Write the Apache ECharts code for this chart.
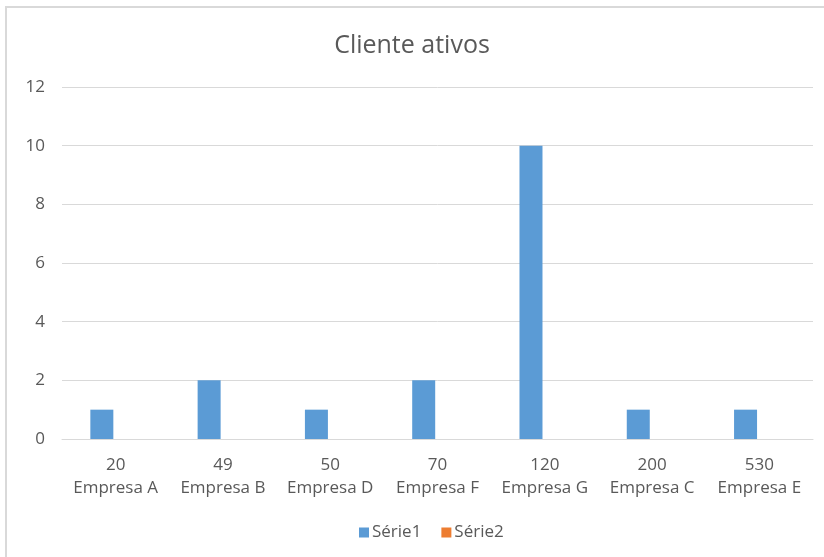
<!DOCTYPE html>
<html>
<head>
<meta charset="utf-8">
<script src="https://cdn.jsdelivr.net/npm/echarts@6/dist/echarts.min.js"></script>
<style>
  html, body { margin: 0; padding: 0; background: #fff; }
  #chart { width: 824px; height: 557px; }
</style>
</head>
<body>
<div id="chart"></div>
<script>
// Two-level category labels: numeric code on top, company name below
const codes = ['20', '49', '50', '70', '120', '200', '530'];
const companies = ['Empresa A', 'Empresa B', 'Empresa D', 'Empresa F', 'Empresa G', 'Empresa C', 'Empresa E'];
const serie1 = [1, 2, 1, 2, 10, 1, 1];
const serie2 = [0, 0, 0, 0, 0, 0, 0];
const yTicks = [0, 2, 4, 6, 8, 10, 12];

const font = 'Open Sans';
const textColor = '#595959';

const chart = echarts.init(document.getElementById('chart'), null, { renderer: 'canvas' });
chart.setOption({
  backgroundColor: '#ffffff',
  animation: false,
  textStyle: { fontFamily: font },
  graphic: [{
    type: 'rect',
    shape: { x: 6, y: 7, width: 840, height: 580 },
    style: { fill: 'none', stroke: '#d9d9d9', lineWidth: 2 },
    silent: true
  }],
  title: {
    text: 'Cliente ativos',
    left: 'center',
    top: 28,
    textStyle: { fontFamily: font, fontSize: 25, fontWeight: 'normal', color: textColor }
  },
  legend: {
    bottom: 11,
    left: 354,
    itemWidth: 10,
    itemHeight: 10,
    itemGap: 20,
    icon: 'rect',
    textStyle: { fontFamily: font, fontSize: 17, color: textColor, padding: [0, 0, 0, -2] }
  },
  grid: { left: 62, right: 11, top: 87, bottom: 118, containLabel: false },
  xAxis: {
    type: 'category',
    data: companies,
    axisLine: { lineStyle: { color: '#d9d9d9', width: 1 } },
    axisTick: { show: false },
    axisLabel: {
      interval: 0,
      margin: 15,
      lineHeight: 23,
      fontFamily: font,
      fontSize: 17,
      color: textColor,
      formatter: (v, i) => codes[i] + '\n' + v
    }
  },
  yAxis: {
    type: 'value',
    min: yTicks[0],
    max: yTicks[yTicks.length - 1],
    interval: 2,
    axisLine: { show: false },
    axisTick: { show: false },
    splitLine: { lineStyle: { color: '#d9d9d9', width: 1 } },
    axisLabel: { margin: 17, fontFamily: font, fontSize: 17, color: textColor }
  },
  series: [
    {
      name: 'Série1',
      type: 'bar',
      data: serie1,
      barWidth: 23,
      barGap: '20%',
      itemStyle: { color: '#5b9bd5' }
    },
    {
      name: 'Série2',
      type: 'bar',
      data: serie2,
      barWidth: 23,
      itemStyle: { color: '#ed7d31' }
    }
  ]
});
</script>
</body>
</html>
